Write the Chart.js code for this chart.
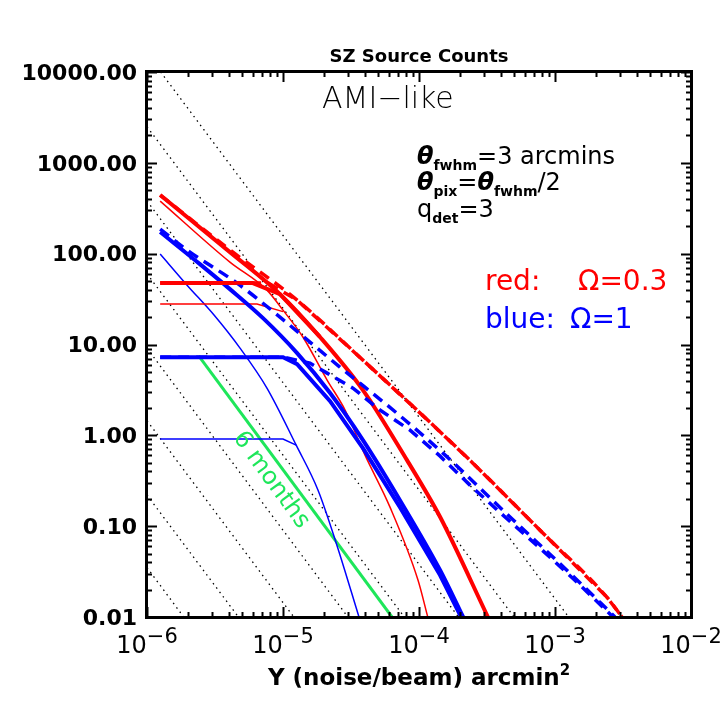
<!DOCTYPE html>
<html>
<head>
<meta charset="utf-8">
<title>SZ Source Counts</title>
<script src="https://cdn.jsdelivr.net/npm/chart.js@4.4.0/dist/chart.umd.min.js"></script>
<style>
	html, body { margin: 0; padding: 0; background: #ffffff; }
	#wrap { width: 727px; height: 727px; }
</style>
</head>
<body>
<div id="wrap"><canvas id="sz-chart" width="727" height="727"></canvas></div>
<script>
// Axis ranges (log-log)
const xRange = [1e-6, 1e-2];
const yRange = [0.01, 10000];
const xTickExps = [-6, -5, -4, -3, -2];
const yTickValues = [0.01, 0.1, 1, 10, 100, 1000, 10000];

// Omega = 0.3 (red)
const redThickX = [1.25e-6, 4.07e-6, 9.5e-6, 1.87e-5, 3.87e-5, 8.16e-5, 1.43e-4, 3.21e-4];
const redThickY = [442, 104, 35.9, 12.1, 3.15, 0.533, 0.126, 0.01];
const redThickFlatX = [1.25e-6, 6.0e-6, 9.5e-6, 1.87e-5];
const redThickFlatY = [47.4, 47.4, 35.9, 12.1];
const redThinX = [1.25e-6, 4.07e-6, 7.62e-6, 1.0e-5, 1.4e-5, 2.11e-5, 2.86e-5, 4.01e-5, 6.12e-5, 9.84e-5, 1.16e-4];
const redThinY = [379, 80.7, 39.7, 23.9, 12.1, 4.06, 1.9, 0.605, 0.162, 0.0254, 0.01];
const redThinFlatX = [1.25e-6, 6.44e-6, 1.0e-5];
const redThinFlatY = [27.9, 27.9, 23.0];
const redDashX = [1.25e-6, 4.07e-6, 1.27e-5, 3.87e-5, 1.2e-4, 2.49e-4, 7.76e-4, 2.41e-3, 3.11e-3];
const redDashY = [442, 110, 30.8, 6.73, 1.40, 0.494, 0.0904, 0.0165, 0.01];
const redDashFlatX = [1.25e-6, 7.8e-6, 1.27e-5, 3.87e-5, 1.2e-4, 2.49e-4, 7.76e-4, 2.41e-3, 3.11e-3];
const redDashFlatY = [47.4, 47.4, 30.8, 6.73, 1.40, 0.494, 0.0904, 0.0165, 0.01];

// Omega = 1 (blue)
const blueThickX = [1.25e-6, 2.45e-6, 4.07e-6, 7.13e-6, 1.27e-5, 2.22e-5, 3.87e-5, 7.24e-5, 1.43e-4, 2.11e-4];
const blueThickY = [173, 76.7, 40.7, 19.5, 8.04, 2.92, 0.885, 0.193, 0.0327, 0.01];
const blueThickFlatX = [1.25e-6, 1.0e-5, 1.27e-5, 2.22e-5, 3.87e-5, 7.24e-5, 1.43e-4, 2.04e-4];
const blueThickFlatY = [7.26, 7.26, 6.08, 2.38, 0.723, 0.162, 0.0288, 0.01];
const blueThinX = [1.25e-6, 1.97e-6, 3.11e-6, 4.83e-6, 7.62e-6, 1.25e-5, 1.81e-5, 2.49e-5, 3.62e-5];
const blueThinY = [99, 45, 21.1, 9.12, 3.31, 0.78, 0.249, 0.0618, 0.01];
const blueThinFlatX = [1.25e-6, 1.0e-5, 1.25e-5];
const blueThinFlatY = [0.91, 0.91, 0.78];
const blueDashX = [1.25e-6, 2.07e-6, 4.59e-6, 9.5e-6, 2.62e-5, 6.89e-5, 1.5e-4, 4.44e-4, 1.36e-3, 2.76e-3];
const blueDashY = [186, 104, 47.4, 20.0, 5.64, 1.75, 0.637, 0.1355, 0.0281, 0.01];
const blueDashFlatX = [1.25e-6, 1.0e-5, 1.58e-5, 2.11e-5, 3.27e-5, 5.16e-5, 8.59e-5, 1.43e-4, 2.37e-4, 4.29e-4, 7.76e-4, 1.40e-3, 2.67e-3];
const blueDashFlatY = [7.26, 7.26, 6.24, 4.84, 3.31, 1.90, 1.14, 0.590, 0.283, 0.126, 0.0573, 0.0254, 0.01];

// 6 months line
const sixMonthsX = [2.4e-6, 6.33e-5];
const sixMonthsY = [7.5, 0.01];

// dotted guide lines: start point (left or top edge) and end point (bottom edge)
const guideStartX = [1e-6, 1e-6, 1e-6, 1e-6, 1e-6, 1e-6, 1e-6, 1.26e-6];
const guideStartY = [0.035, 0.22, 1.45, 9.1, 60, 380, 2500, 10000];
const guideEndX = [1.86e-6, 4.7e-6, 1.2e-5, 3.0e-5, 7.8e-5, 1.95e-4, 5.0e-4, 1.26e-3];
const guideEndY = [0.01, 0.01, 0.01, 0.01, 0.01, 0.01, 0.01, 0.01];

const RED = "#ff0000";
const BLUE = "#0000ff";
const GREEN = "#1ee65a";
const FONT = '"DejaVu Sans", sans-serif';

// builds a line dataset from two value arrays
function makeLine(xs, ys, color, width, dash, smooth) {
	return {
		data: xs.map(function (x, i) { return { x: x, y: ys[i] }; }),
		borderColor: color,
		borderWidth: width,
		borderDash: dash || [],
		pointRadius: 0,
		fill: false,
		tension: 0,
		cubicInterpolationMode: smooth ? "monotone" : "default",
	};
}

let datasets = [
	makeLine(redDashX, redDashY, RED, 3.5, [11, 7], true),
	makeLine(redDashFlatX, redDashFlatY, RED, 3.5, [11, 7], false),
	makeLine(blueDashX, blueDashY, BLUE, 3.5, [11, 7], true),
	makeLine(blueDashFlatX, blueDashFlatY, BLUE, 3.5, [11, 7], false),
	makeLine(redThickX, redThickY, RED, 4, null, true),
	makeLine(redThickFlatX, redThickFlatY, RED, 4, null, false),
	makeLine(blueThickX, blueThickY, BLUE, 4, null, true),
	makeLine(blueThickFlatX, blueThickFlatY, BLUE, 4, null, false),
	makeLine(redThinX, redThinY, RED, 1.5, null, true),
	makeLine(redThinFlatX, redThinFlatY, RED, 1.5, null, false),
	makeLine(blueThinX, blueThinY, BLUE, 1.5, null, true),
	makeLine(blueThinFlatX, blueThinFlatY, BLUE, 1.5, null, false),
	makeLine(sixMonthsX, sixMonthsY, GREEN, 3, null, false),
];
for (let i = 0; i < guideStartX.length; i++) {
	datasets.push(makeLine([guideStartX[i], guideEndX[i]], [guideStartY[i], guideEndY[i]], "#000000", 1.3, [1.5, 4], false));
}

// draws a run of text pieces with different fonts / offsets
function drawRuns(ctx, runs, x, y) {
	for (let r of runs) {
		ctx.font = r.font;
		ctx.fillStyle = r.color || "#000000";
		ctx.fillText(r.text, x, y + (r.dy || 0));
		x += ctx.measureText(r.text).width;
	}
	return x;
}

function runsWidth(ctx, runs) {
	let w = 0;
	for (let r of runs) {
		ctx.font = r.font;
		w += ctx.measureText(r.text).width;
	}
	return w;
}

// IDL-style frame, inward ticks, tick labels and annotations
const decorPlugin = {
	id: "decor",
	afterDraw(chart) {
		let ctx = chart.ctx;
		let a = chart.chartArea;
		let xs = chart.scales.x;
		let ys = chart.scales.y;
		ctx.save();

		// frame
		ctx.strokeStyle = "#000000";
		ctx.lineWidth = 3;
		ctx.strokeRect(a.left - 0.5, a.top - 0.5, a.right - a.left + 1, a.bottom - a.top + 1);

		// ticks
		ctx.lineWidth = 2;
		ctx.beginPath();
		for (let e = xTickExps[0]; e <= xTickExps[xTickExps.length - 1]; e++) {
			for (let k = 1; k <= 9; k++) {
				let v = k * Math.pow(10, e);
				if (v < xRange[0] * 0.999 || v > xRange[1] * 1.001) continue;
				let px = Math.round(xs.getPixelForValue(v)) + 0.5;
				let len = k === 1 ? 10 : 5;
				ctx.moveTo(px, a.bottom); ctx.lineTo(px, a.bottom - len);
				ctx.moveTo(px, a.top); ctx.lineTo(px, a.top + len);
			}
		}
		for (let e = -2; e <= 4; e++) {
			for (let k = 1; k <= 9; k++) {
				let v = k * Math.pow(10, e);
				if (v < yRange[0] * 0.999 || v > yRange[1] * 1.001) continue;
				let py = Math.round(ys.getPixelForValue(v)) + 0.5;
				let len = k === 1 ? 10 : 5;
				ctx.moveTo(a.left, py); ctx.lineTo(a.left + len, py);
				ctx.moveTo(a.right, py); ctx.lineTo(a.right - len, py);
			}
		}
		ctx.stroke();

		// y tick labels
		ctx.fillStyle = "#000000";
		ctx.font = "bold 22px " + FONT;
		ctx.textAlign = "right";
		ctx.textBaseline = "middle";
		yTickValues.forEach(function (v) {
			ctx.fillText(v.toFixed(2), a.left - 10, ys.getPixelForValue(v) + 2);
		});

		// x tick labels 10^n
		ctx.textAlign = "left";
		ctx.textBaseline = "alphabetic";
		xTickExps.forEach(function (e) {
			let runs = [
				{ text: "10", font: "24px " + FONT },
				{ text: "\u2212" + Math.abs(e), font: "21px " + FONT, dy: -10 },
			];
			let w = runsWidth(ctx, runs);
			drawRuns(ctx, runs, xs.getPixelForValue(Math.pow(10, e)) - w / 2, a.bottom + 36);
		});

		// x axis title
		let titleRuns = [
			{ text: "Y (noise/beam) arcmin", font: "bold 23px " + FONT },
			{ text: "2", font: "bold 15px " + FONT, dy: -10 },
		];
		let tw = runsWidth(ctx, titleRuns);
		drawRuns(ctx, titleRuns, (a.left + a.right) / 2 - tw / 2, a.bottom + 68);

		// plot title
		ctx.textAlign = "center";
		ctx.font = "bold 18px " + FONT;
		ctx.fillText("SZ Source Counts", (a.left + a.right) / 2, 62);

		// annotations
		ctx.textAlign = "left";
		ctx.font = "300 30px " + FONT;
		ctx.fillText("AMI\u2212like", 322, 108);

		let theta = "bold italic 24px " + FONT;
		let sub = "bold 14px " + FONT;
		let norm = "24px " + FONT;
		drawRuns(ctx, [
			{ text: "\u03b8", font: theta },
			{ text: "fwhm", font: sub, dy: 6 },
			{ text: "=3 arcmins", font: norm },
		], 417, 164);
		drawRuns(ctx, [
			{ text: "\u03b8", font: theta },
			{ text: "pix", font: sub, dy: 6 },
			{ text: "=", font: norm },
			{ text: "\u03b8", font: theta },
			{ text: "fwhm", font: sub, dy: 6 },
			{ text: "/2", font: norm },
		], 417, 190);
		drawRuns(ctx, [
			{ text: "q", font: norm },
			{ text: "det", font: sub, dy: 6 },
			{ text: "=3", font: norm },
		], 417, 217);

		ctx.font = "28px " + FONT;
		ctx.fillStyle = RED;
		ctx.fillText("red:", 485, 290);
		ctx.fillText("\u03a9=0.3", 578, 290);
		ctx.fillStyle = BLUE;
		ctx.fillText("blue:", 485, 328);
		ctx.fillText("\u03a9=1", 570, 328);

		// rotated label along the green line
		ctx.save();
		ctx.translate(271, 480);
		ctx.rotate(54 * Math.PI / 180);
		ctx.fillStyle = GREEN;
		ctx.font = "24px " + FONT;
		ctx.textAlign = "center";
		ctx.textBaseline = "middle";
		ctx.fillText("6 months", 0, 0);
		ctx.restore();

		ctx.restore();
	},
};

const chartConfig = {
	type: "line",
	data: { datasets: datasets },
	options: {
		responsive: false,
		animation: false,
		devicePixelRatio: 1,
		layout: { padding: { left: 147, right: 36, top: 72, bottom: 110 } },
		scales: {
			x: { type: "logarithmic", min: xRange[0], max: xRange[1], display: false },
			y: { type: "logarithmic", min: yRange[0], max: yRange[1], display: false },
		},
		plugins: {
			legend: { display: false },
			tooltip: { enabled: false },
			title: { display: false },
		},
	},
	plugins: [decorPlugin],
};

let szChart = new Chart(document.getElementById("sz-chart"), chartConfig);
</script>
</body>
</html>
